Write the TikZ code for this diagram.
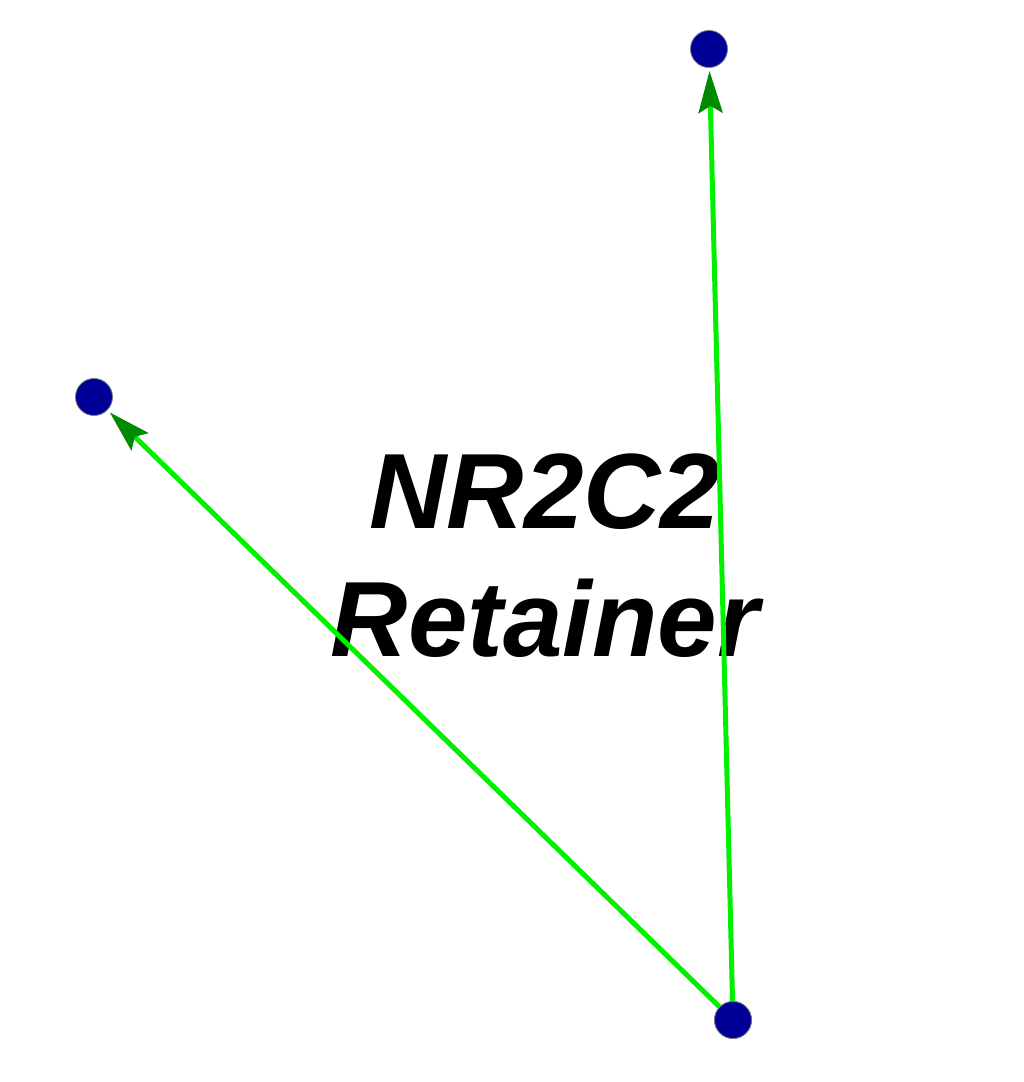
\documentclass[tikz,border=0pt]{standalone}
\usepackage{fontspec}
\setmainfont{Liberation Sans}
\usetikzlibrary{arrows.meta,positioning}
\definecolor{nodenavy}{HTML}{000096}
\definecolor{nodeedge}{HTML}{7A7A8A}
\definecolor{edgelime}{HTML}{00F000}
\definecolor{tipgreen}{HTML}{008A00}
\tikzset{
  genenode/.style={circle,draw=nodeedge,line width=0.8pt,fill=nodenavy,minimum size=37pt,inner sep=0pt},
  regflow/.style={-{Stealth[length=42pt,width=24pt,inset=7pt,color=tipgreen]},line width=5pt,draw=edgelime,shorten >=3pt},
  title/.style={align=center,inner sep=0pt,font=\fontsize{107}{128}\selectfont\bfseries\itshape}
}
\begin{document}
\begin{tikzpicture}[x=1pt,y=-1pt]
  \useasboundingbox (0,0) rectangle (1024,1082);
  \node[title] (label) at (545,556) {NR2C2\\Retainer};

  \node[genenode] (top) at (709,49) {};
  \node[genenode] (left) at (94,397) {};
  \node[genenode] (bottom) at (733,1020) {};
  \draw[regflow] (bottom) -- (top);
  \draw[regflow] (bottom) -- (left);
  \node[genenode] at (bottom) {};

\end{tikzpicture}
\end{document}
